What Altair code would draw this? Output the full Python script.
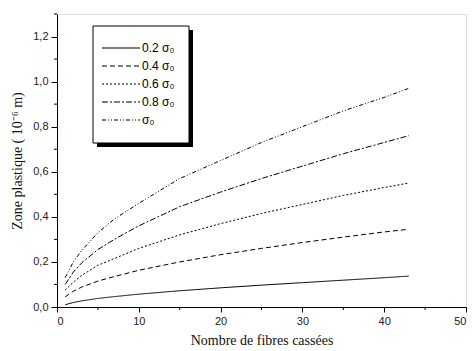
import altair as alt
import pandas as pd

x_vals = [1, 2, 3, 5, 7, 10, 15, 20, 25, 30, 35, 40, 43]
s02 = [0.010, 0.020, 0.027, 0.038, 0.046, 0.057, 0.072, 0.085, 0.097, 0.108, 0.119, 0.130, 0.137]
s04 = [0.045, 0.070, 0.088, 0.115, 0.135, 0.163, 0.200, 0.232, 0.260, 0.286, 0.310, 0.333, 0.345]
s06 = [0.075, 0.110, 0.140, 0.185, 0.215, 0.260, 0.320, 0.370, 0.415, 0.455, 0.495, 0.530, 0.550]
s08 = [0.100, 0.155, 0.195, 0.255, 0.300, 0.360, 0.445, 0.510, 0.570, 0.625, 0.680, 0.730, 0.760]
s10 = [0.130, 0.200, 0.250, 0.330, 0.390, 0.460, 0.570, 0.650, 0.730, 0.800, 0.870, 0.930, 0.970]

labels = ["0.2 σ₀", "0.4 σ₀", "0.6 σ₀", "0.8 σ₀", "\u00a0\u00a0σ₀"]
series = [s02, s04, s06, s08, s10]
dashes = [[1, 0], [5, 3], [2, 2], [6, 2, 2, 2], [4, 2, 1, 2, 1, 2]]

rows = []
for lab, vals in zip(labels, series):
    for xv, yv in zip(x_vals, vals):
        rows.append({"x": xv, "y": yv, "serie": lab})
df = pd.DataFrame(rows)

W, H = 409, 293

x_axis = alt.Axis(values=[0, 10, 20, 30, 40, 50], title="Nombre de fibres cassées",
                  grid=False, tickSize=5, labelFont="Liberation Sans", labelFontSize=11,
                  labelColor="#222", titleFont="Liberation Serif", titleFontSize=14,
                  titleFontWeight="normal", titleColor="#111", titlePadding=7,
                  domainColor="#000", tickColor="#000", labelPadding=3)
y_axis = alt.Axis(values=[0, 0.2, 0.4, 0.6, 0.8, 1.0, 1.2], title="Zone plastique ( 10⁻⁶ m)",
                  grid=False, tickSize=6,
                  labelExpr="replace(format(datum.value, '.1f'), '.', ',')",
                  labelFont="Liberation Sans", labelFontSize=11, labelColor="#222",
                  titleFont="Liberation Serif", titleFontSize=14, titleFontWeight="normal",
                  titleColor="#111", titlePadding=8, domainColor="#000", tickColor="#000",
                  labelPadding=3)

lines = alt.Chart(df).mark_line(strokeWidth=1, color="black").encode(
    x=alt.X("x:Q", scale=alt.Scale(domain=[0, 50], nice=False), axis=x_axis),
    y=alt.Y("y:Q", scale=alt.Scale(domain=[0, 1.3], nice=False), axis=y_axis),
    strokeDash=alt.StrokeDash("serie:N", scale=alt.Scale(domain=labels, range=dashes),
                              sort=labels, legend=None),
    detail="serie:N",
)

minor_x = pd.DataFrame({"v": [5, 15, 25, 35, 45]})
minor_y = pd.DataFrame({"v": [0.1, 0.3, 0.5, 0.7, 0.9, 1.1, 1.3]})

mx = alt.Chart(minor_x).mark_rule(color="black", strokeWidth=1).encode(
    x=alt.X("v:Q", scale=alt.Scale(domain=[0, 50], nice=False)),
    y=alt.value(H), y2=alt.value(H + 3))
my = alt.Chart(minor_y).mark_rule(color="black", strokeWidth=1).encode(
    y=alt.Y("v:Q", scale=alt.Scale(domain=[0, 1.3], nice=False)),
    x=alt.value(-3), x2=alt.value(0))

one = pd.DataFrame({"a": [0]})
shadow = alt.Chart(one).mark_rect(color="black").encode(
    x=alt.value(40), x2=alt.value(136), y=alt.value(16), y2=alt.value(133))
box = alt.Chart(one).mark_rect(fill="white", stroke="black", strokeWidth=1).encode(
    x=alt.value(36), x2=alt.value(132), y=alt.value(12), y2=alt.value(129))

legend_layers = []
for i, (lab, d) in enumerate(zip(labels, dashes)):
    ly = 34 + 18 * i
    ldf = pd.DataFrame({"label": [lab]})
    legend_layers.append(alt.Chart(ldf).mark_rule(color="black", strokeWidth=1, strokeDash=d).encode(
        x=alt.value(45), x2=alt.value(83), y=alt.value(ly)))
    legend_layers.append(alt.Chart(ldf).mark_text(align="left", baseline="middle",
                                                  font="Liberation Sans", fontSize=12,
                                                  color="black").encode(
        x=alt.value(85), y=alt.value(ly), text="label:N"))

chart = alt.layer(lines, mx, my, shadow, box, *legend_layers).properties(
    width=W, height=H,
    autosize=alt.AutoSizeParams(type="none"),
    padding={"left": 57, "top": 14, "right": 6, "bottom": 44},
).configure_view(stroke=None).configure(background="white")

chart.save("out.html", embed_options={"renderer": "svg", "actions": False})
